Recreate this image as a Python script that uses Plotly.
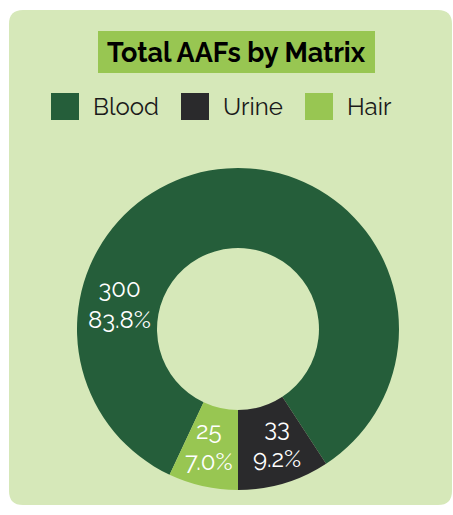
import math
import plotly.graph_objects as go

# data
matrices = ["Blood", "Urine", "Hair"]
counts = [300, 33, 25]
colors = ["#255e3a", "#2a2a2c", "#98c652"]

W, H = 453, 515
FONT = "Raleway, Lato, sans-serif"

# donut geometry (pixels)
cx, cy, R = 238, 329, 161
hole = 0.503
label_r = R * (1 + hole) / 2
# where the slice labels sit (degrees clockwise from 12 o'clock)
label_angle = {"Blood": 282, "Urine": 161, "Hair": 194}


def px(x):
    return x / W


def py(y):
    return 1 - y / H


total = sum(counts)
# hair slice ends at 6 o'clock -> start blood right after it
rotation = 180 + counts[2] / total * 360

fig = go.Figure(go.Pie(
    labels=matrices, values=counts, hole=hole, sort=False,
    direction="clockwise", rotation=rotation,
    marker=dict(colors=colors, line=dict(width=0)),
    textinfo="none", showlegend=False, hoverinfo="label+value+percent",
    domain=dict(x=[px(cx - R), px(cx + R)], y=[py(cy + R), py(cy - R)]),
))

# card background with rounded corners
x0, x1, y0, y1, r = 9, 452, 10, 505, 14
card = (f"M {px(x0 + r)},{py(y0)} L {px(x1 - r)},{py(y0)} "
        f"Q {px(x1)},{py(y0)} {px(x1)},{py(y0 + r)} "
        f"L {px(x1)},{py(y1 - r)} Q {px(x1)},{py(y1)} {px(x1 - r)},{py(y1)} "
        f"L {px(x0 + r)},{py(y1)} Q {px(x0)},{py(y1)} {px(x0)},{py(y1 - r)} "
        f"L {px(x0)},{py(y0 + r)} Q {px(x0)},{py(y0)} {px(x0 + r)},{py(y0)} Z")
shapes = [dict(type="path", path=card, xref="paper", yref="paper",
               fillcolor="#d6e8b9", line=dict(width=0), layer="below")]

# title box
shapes.append(dict(type="rect", xref="paper", yref="paper",
                   x0=px(98), x1=px(375), y0=py(73), y1=py(31),
                   fillcolor="#98c652", line=dict(width=0), layer="below"))
annotations = [dict(text="<b>Total AAFs by Matrix</b>", x=px(236.5), y=py(52),
                    xref="paper", yref="paper", showarrow=False,
                    xanchor="center", yanchor="middle",
                    font=dict(family=FONT, size=27, color="#000000"))]

# legend
legend_x = [51, 181, 305]
for name, col, lx in zip(matrices, colors, legend_x):
    shapes.append(dict(type="rect", xref="paper", yref="paper",
                       x0=px(lx), x1=px(lx + 28), y0=py(120), y1=py(93),
                       fillcolor=col, line=dict(width=0)))
    annotations.append(dict(text=name, x=px(lx + 40), y=py(106.5),
                            xref="paper", yref="paper", showarrow=False,
                            xanchor="left", yanchor="middle",
                            font=dict(family=FONT, size=24, color="#1a1a1a")))

# slice labels
for name, v in zip(matrices, counts):
    ang = math.radians(label_angle[name])
    lx = cx + label_r * math.sin(ang)
    ly = cy - label_r * math.cos(ang)
    annotations.append(dict(text=f"{v}<br>{v / total * 100:.1f}%",
                            x=px(lx), y=py(ly), xref="paper", yref="paper",
                            showarrow=False, xanchor="center", yanchor="middle",
                            font=dict(family=FONT, size=24, color="#ffffff")))

fig.update_layout(
    width=W, height=H, margin=dict(l=0, r=0, t=0, b=0),
    paper_bgcolor="#ffffff", plot_bgcolor="#ffffff",
    shapes=shapes, annotations=annotations,
)

# drop the default 8px body margin so the figure sits at the window corner
fig.write_html("out.html", config={"displayModeBar": False},
               post_script="document.body.style.margin = '0';")
